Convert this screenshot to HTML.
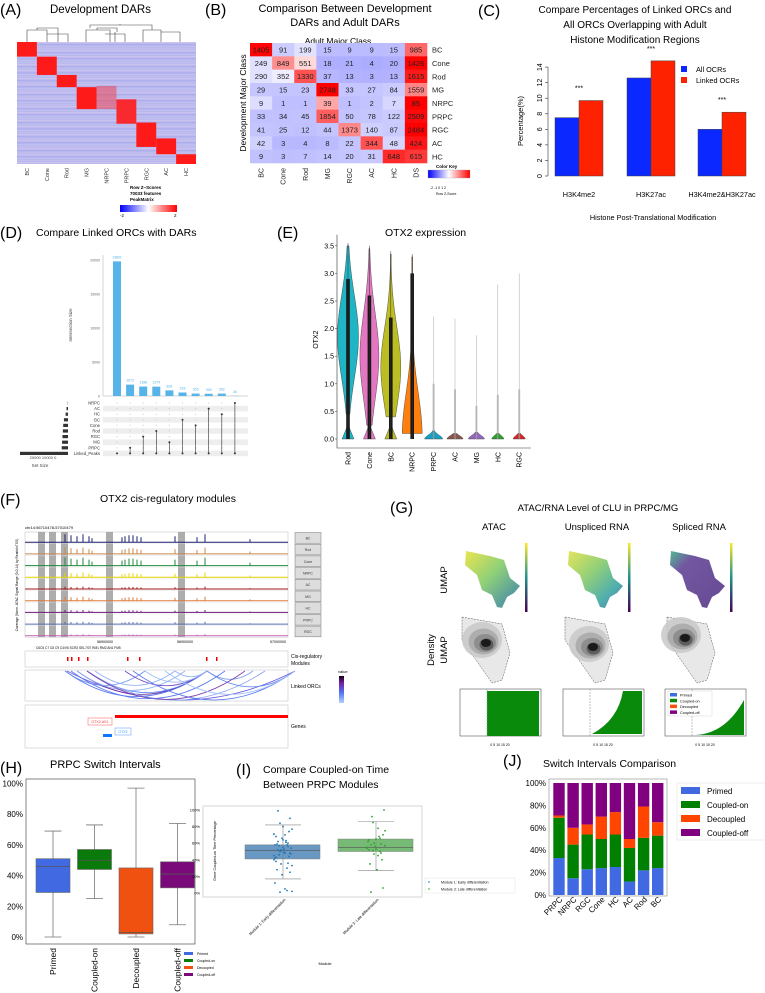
<!DOCTYPE html>
<html><head><meta charset="utf-8"><style>
html,body{margin:0;padding:0;background:#fff}
svg{display:block;font-family:"Liberation Sans",sans-serif}
</style></head><body>
<svg id="fig" width="765" height="993" viewBox="0 0 765 993" xmlns="http://www.w3.org/2000/svg">
<defs>
<linearGradient id="rwb" x1="0" x2="1"><stop offset="0" stop-color="#0000ff"/><stop offset="0.5" stop-color="#ffffff"/><stop offset="1" stop-color="#ff0000"/></linearGradient>
<linearGradient id="vir" x1="0" y1="0" x2="1" y2="1"><stop offset="0" stop-color="#e8e030"/><stop offset="0.45" stop-color="#7cc860"/><stop offset="0.8" stop-color="#3a8a8c"/><stop offset="1" stop-color="#c0d840"/></linearGradient>
<linearGradient id="vir2" x1="0" y1="0" x2="1" y2="1"><stop offset="0" stop-color="#e0e040"/><stop offset="0.4" stop-color="#80c860"/><stop offset="0.75" stop-color="#30a0a0"/><stop offset="1" stop-color="#3a5a90"/></linearGradient>
<linearGradient id="vir3" x1="0" y1="0" x2="1" y2="1"><stop offset="0" stop-color="#30b080"/><stop offset="0.25" stop-color="#5a3a90"/><stop offset="1" stop-color="#4a2a80"/></linearGradient>
<linearGradient id="cbar" x1="0" y1="1" x2="0" y2="0"><stop offset="0" stop-color="#440154"/><stop offset="0.5" stop-color="#21918c"/><stop offset="1" stop-color="#fde725"/></linearGradient>
<linearGradient id="valkey" x1="0" y1="1" x2="0" y2="0"><stop offset="0" stop-color="#b0d0ff"/><stop offset="0.4" stop-color="#5070f0"/><stop offset="0.75" stop-color="#7020a0"/><stop offset="1" stop-color="#100010"/></linearGradient>
</defs>
<text x="0" y="15" font-size="16">(A)</text>
<text x="50" y="13" font-size="11.5">Development DARs</text>
<text x="205" y="15" font-size="16">(B)</text>
<text x="345" y="12" font-size="11" text-anchor="middle">Comparison Between Development</text>
<text x="345" y="26" font-size="11" text-anchor="middle">DARs and Adult DARs</text>
<text x="338" y="44" font-size="8.5" text-anchor="middle">Adult Major Class</text>
<text transform="translate(246,103) rotate(-90)" font-size="8.5" text-anchor="middle">Development Major Class</text>
<text x="478" y="16" font-size="16">(C)</text>
<text x="635" y="13" font-size="10" text-anchor="middle">Compare Percentages of Linked ORCs and</text>
<text x="635" y="28" font-size="10" text-anchor="middle">All ORCs Overlapping with Adult</text>
<text x="635" y="43" font-size="10" text-anchor="middle">Histone  Modification Regions</text>
<text x="0" y="238" font-size="16">(D)</text>
<text x="36" y="236" font-size="10.5">Compare Linked ORCs with DARs</text>
<text x="277" y="238" font-size="16">(E)</text>
<text x="385" y="236" font-size="10.5">OTX2 expression</text>
<text x="0" y="505" font-size="16">(F)</text>
<text x="100" y="502" font-size="10.5">OTX2 cis-regulatory modules</text>
<text x="390" y="513" font-size="16">(G)</text>
<text x="598" y="511" font-size="9.5" text-anchor="middle">ATAC/RNA  Level of CLU in PRPC/MG</text>
<text x="494" y="530" font-size="9.5" text-anchor="middle">ATAC</text>
<text x="597" y="530" font-size="9.5" text-anchor="middle">Unspliced RNA</text>
<text x="699" y="530" font-size="9.5" text-anchor="middle">Spliced RNA</text>
<text transform="translate(447,580) rotate(-90)" font-size="9.5" text-anchor="middle">UMAP</text>
<text transform="translate(434,650) rotate(-90)" font-size="9.5" text-anchor="middle">Density</text>
<text transform="translate(447,650) rotate(-90)" font-size="9.5" text-anchor="middle">UMAP</text>
<text x="0" y="773" font-size="16">(H)</text>
<text x="50" y="768" font-size="11">PRPC Switch Intervals</text>
<text x="236" y="775" font-size="16">(I)</text>
<text x="263" y="773" font-size="10.5">Compare Coupled-on Time</text>
<text x="263" y="788" font-size="10.5">Between PRPC Modules</text>
<text x="503" y="766" font-size="16">(J)</text>
<text x="543" y="767" font-size="10.5">Switch Intervals Comparison</text>
</svg>
<script>
const NS='http://www.w3.org/2000/svg';
const svg=document.getElementById('fig');
function mk(tag,attrs,parent){const e=document.createElementNS(NS,tag);for(const k in attrs)e.setAttribute(k,attrs[k]);(parent||svg).appendChild(e);return e;}
function tx(x,y,s,size,attrs,parent){const e=mk('text',Object.assign({x:x,y:y,'font-size':size},attrs||{}),parent);e.textContent=s;return e;}

/* ---------- Panel A ---------- */
const aCols=['BC','Cone','Rod','MG','NRPC','PRPC','RGC','AC','HC'];
const aBlockStart=[0,0.12,0.27,0.37,0.36,0.47,0.66,0.79,0.92];
const aBlockEnd=[0.12,0.27,0.37,0.55,0.55,0.67,0.86,0.92,1.0];
const aBlockStrength=[1,1,1,1,0.4,0.9,1,1,1];
{
 const x0=17,y0=42,w=179,h=122,cw=w/aCols.length;
 const g=mk('g',{});
 
 
 const bg=mk('rect',{x:x0,y:y0,width:w,height:h,fill:'#b8b8ee'},g);
 
 
 for(let r=0;r<61;r++){
  const shade=(r*37)%7;
  const c=shade<2?'#d8c8ee':(shade<4?'#a8a8ea':'#c4bff0');
  const s=mk('rect',{x:x0,y:y0+r*2,width:w,height:1.2,fill:c,opacity:0.6},g);
  
  
 }
 aCols.forEach((c,i)=>{
  const b=mk('rect',{x:x0+i*cw,y:y0+aBlockStart[i]*h,width:cw,height:(aBlockEnd[i]-aBlockStart[i])*h,fill:'#ff1a1a',opacity:aBlockStrength[i]},g);
  
  
  const t=tx(0,0,c,5.5,{transform:`translate(${x0+i*cw+cw/2+2},168) rotate(-90)`,'text-anchor':'end',fill:'#333'});
  
  
 });
 const dend=mk('path',{d:'M27,42V30H47V42M47,32V32M37,30V28H58V34M47,34H68V42M58,34V42M86,42V30H110V42M105,34H125V42M97,30V28H117V32M115,32V42M143,42V30H161V42M161,32H180V42M152,30V25H90V28M120,25V24',fill:'none',stroke:'#444','stroke-width':0.6});
 
 
 const ck=mk('rect',{x:120,y:205,width:57,height:7,fill:'url(#rwb)'});
 
 
 [['Row Z−Scores',189],['70033 features',195],['PeakMatrix',201]].forEach(p=>{const t=tx(130,p[1],p[0],4.5,{'font-weight':'bold'});});
 const k1=tx(120,217,'-2',4.5);
 const k2=tx(174,217,'2',4.5);
}

/* ---------- Panel B ---------- */
const bRows=['BC','Cone','Rod','MG','NRPC','PRPC','RGC','AC','HC'];
const bCols=['BC','Cone','Rod','MG','RGC','AC','HC','DS'];
const bBC=[1405,91,199,15,9,9,15,985];
const bCone=[249,849,551,18,21,4,20,1426];
const bRod=[290,352,1330,37,13,3,13,1615];
const bMG=[29,15,23,2748,33,27,84,1559];
const bNRPC=[9,1,1,39,1,2,7,85];
const bPRPC=[33,34,45,1854,50,78,122,2509];
const bRGC=[41,25,12,44,1373,140,87,2484];
const bAC=[42,3,4,8,22,344,48,424];
const bHC=[9,3,7,14,20,31,648,615];
const bMatrix=[bBC,bCone,bRod,bMG,bNRPC,bPRPC,bRGC,bAC,bHC];
function zcolor(z){z=Math.max(-2,Math.min(2,z));const t=Math.abs(z)/2;
 if(z<0)return `rgb(${Math.round(255-t*223)},${Math.round(255-t*223)},255)`;
 return `rgb(255,${Math.round(255-t*255)},${Math.round(255-t*255)})`;}
{
 const x0=250,y0=43,cw=177/bCols.length,rh=120/bRows.length;
 const g=mk('g',{});
 
 
 bMatrix.forEach((row,r)=>{
  const m=row.reduce((a,b)=>a+b,0)/row.length;
  const sd=Math.sqrt(row.reduce((a,b)=>a+(b-m)*(b-m),0)/(row.length-1));
  row.forEach((v,c)=>{
   const cell=mk('rect',{x:x0+c*cw,y:y0+r*rh,width:cw+0.3,height:rh+0.3,fill:zcolor((v-m)/sd)},g);
   
   
   const t=tx(x0+c*cw+cw/2,y0+r*rh+rh/2+2.8,String(v),7.5,{'text-anchor':'middle',fill:'#222'},g);
   
   
  });
  const rl=tx(432,y0+r*rh+rh/2+3,bRows[r],7.5,{fill:'#222'},g);
  
  
 });
 bCols.forEach((c,i)=>{
  const t=tx(0,0,c,7,{transform:`translate(${x0+i*cw+cw/2+2.5},168) rotate(-90)`,'text-anchor':'end',fill:'#222'},g);
  
  
 });
 const kt=tx(436,168,'Color Key',4.5,{'font-weight':'bold'});
 const ck=mk('rect',{x:428,y:170,width:42,height:8,fill:'url(#rwb)',stroke:'#999','stroke-width':0.3});
 
 
 const kl=tx(430,189,'-2  -1   0   1   2',3.5);
 const kz=tx(436,195,'Row Z-Score',3.5);
}

/* ---------- Panel C ---------- */
const cGroups=['H3K4me2','H3K27ac','H3K4me2&H3K27ac'];
const cAll=[7.5,12.6,6.0];
const cLinked=[9.7,14.8,8.2];
const cTicks=[0,2,4,6,8,10,12,14];
{
 const y=v=>176-v*7.78;
 const gx=[555,627,698],bw=24;
 cTicks.forEach(t=>{
  const tk=mk('line',{x1:545,x2:548,y1:y(t),y2:y(t),stroke:'#333','stroke-width':0.6});
  
  const l=tx(0,0,String(t),7,{transform:`translate(542,${y(t)}) rotate(-90)`,'text-anchor':'middle'});
 });
 const ax=mk('line',{x1:548,x2:548,y1:y(0),y2:y(14),stroke:'#333','stroke-width':0.6});
 
 const yt=tx(0,0,'Percentage(%)',7.5,{transform:'translate(523,121) rotate(-90)','text-anchor':'middle'});
 
 cGroups.forEach((gname,i)=>{
  const b1=mk('rect',{x:gx[i],y:y(cAll[i]),width:bw,height:y(0)-y(cAll[i]),fill:'#0a28ff',stroke:'#444','stroke-width':0.5});
  
  const b2=mk('rect',{x:gx[i]+bw,y:y(cLinked[i]),width:bw,height:y(0)-y(cLinked[i]),fill:'#ff2200',stroke:'#444','stroke-width':0.5});
  
  const st=tx(gx[i]+bw,y(cLinked[i])-10,'***',7,{'text-anchor':'middle'});
  
  const gl=tx(gx[i]+bw,197,gname,7.3,{'text-anchor':'middle'});
  
 });
 const xt=tx(653,220,'Histone Post-Translational Modification',7.3,{'text-anchor':'middle'});
 
 const l1=mk('rect',{x:681,y:66,width:6,height:6,fill:'#0a28ff'});
 const l2=mk('rect',{x:681,y:77,width:6,height:6,fill:'#ff2200'});
 const lt1=tx(696,72,'All OCRs',7.3);
 const lt2=tx(696,83,'Linked OCRs',7.3);
}

/* ---------- Panel D ---------- */
const dSets=['NRPC','AC','HC','BC','Cone','Rod','RGC','MG','PRPC','Linked_Peaks'];
const dSetSizes=[150,800,1300,2200,2600,2800,3000,3200,3400,26000];
const dSizes=[19801,1672,1388,1374,828,518,353,326,352,26];
const dMembers=['PRPC','RGC','Rod','MG','BC','Cone','AC','HC','NRPC'];
const dTicks=[0,5000,10000,15000,20000];
{
 const base=396,sc=102/15000,xs=i=>117+i*13.1;
 const ax=mk('line',{x1:103,x2:103,y1:base,y2:255,stroke:'#aaa','stroke-width':0.5});
 
 const xa=mk('line',{x1:103,x2:248,y1:base,y2:base,stroke:'#aaa','stroke-width':0.5});
 
 dTicks.forEach(t=>{const l=tx(100,base-t*sc+1.5,String(t),3.5,{'text-anchor':'end',fill:'#666'});});
 const yt=tx(0,0,'Intersection Size',4.5,{transform:'translate(72,325) rotate(-90)','text-anchor':'middle',fill:'#444'});
 
 dSets.forEach((s,r)=>{
  const yy=403+r*5.6;
  if(r%2===1){const sh=mk('rect',{x:103,y:yy-2.8,width:145,height:5.6,fill:'#eee'});}
  const l=tx(100,yy+1.5,s,4.2,{'text-anchor':'end',fill:'#333'});
  const w=dSetSizes[r]*(48/26000);
  const sb=mk('rect',{x:68-w,y:yy-1.6,width:w,height:3.2,fill:'#333'});
 });
 const sl=tx(43,459,'20000 10000  0',4,{'text-anchor':'middle',fill:'#444'});
 const sst=tx(40,467,'Set Size',4.5,{'text-anchor':'middle',fill:'#444'});
 dSizes.forEach((v,i)=>{
  const b=mk('rect',{x:xs(i)-4,y:base-v*sc,width:8,height:v*sc,fill:'#56b4e9'});
  
  const l=tx(xs(i),base-v*sc-3,String(v),3.5,{'text-anchor':'middle',fill:'#56b4e9'});
  
  dSets.forEach((s,r)=>{const d=mk('circle',{cx:xs(i),cy:403+r*5.6,r:0.6,fill:'#ccc'});});
  const lp=403+9*5.6;
  const d1=mk('circle',{cx:xs(i),cy:lp,r:1,fill:'#333'});
  if(i>0){const r=dSets.indexOf(dMembers[i-1]);const yy=403+r*5.6;
   const ln=mk('line',{x1:xs(i),x2:xs(i),y1:yy,y2:lp,stroke:'#333','stroke-width':0.6});
   const d2=mk('circle',{cx:xs(i),cy:yy,r:1,fill:'#333'});}
 });
}

/* ---------- Panel E ---------- */
const eCats=['Rod','Cone','BC','NRPC','PRPC','AC','MG','HC','RGC'];
const eColors=['#1fb5c5','#e377c2','#bcbd22','#ff7f0e','#17a0c0','#8c564b','#9467bd','#2ca02c','#d62728'];
const ePeak=[1.85,1.5,1.3,0.05,0,0,0,0,0];
const eHalfWidth=[10.5,9.5,10,10,9,8,8,6,6];
const eBodyLow=[0.45,0.25,0.4,0.1,0,0,0,0,0];
const eBodyHigh=[3.5,3.45,3.35,3.3,0.15,0.1,0.12,0.1,0.1];
const eMax=[3.55,3.5,3.4,3.35,2.22,2.18,1.88,2.8,3.0];
const eCoreHigh=[2.9,2.6,2.2,3.0,1.0,0.9,0.6,0.8,0.9];
const eTicks=[0,0.5,1,1.5,2,2.5,3,3.5];
{
 const y=v=>439-v*55.2, xc=i=>348+i*21.4;
 eTicks.forEach(t=>{
  const l=tx(334,y(t)+2.5,t.toFixed(1),7,{'text-anchor':'end'});
  const tk=mk('line',{x1:335,x2:337,y1:y(t),y2:y(t),stroke:'#333','stroke-width':0.5});
 });
 const ax=mk('path',{d:`M337,${y(3.7)}V448H531`,fill:'none',stroke:'#333','stroke-width':0.6});
 const yt=tx(0,0,'OTX2',7,{transform:`translate(318,${y(1.8)}) rotate(-90)`,'text-anchor':'middle'});
 eCats.forEach((c,i)=>{
  const cx=xc(i);let right=[],left=[];
  for(let k=0;k<=40;k++){
   const v=eBodyLow[i]+(eBodyHigh[i]-eBodyLow[i])*k/40;
   const s=(eBodyHigh[i]-eBodyLow[i])/3+0.05;
   let w=eHalfWidth[i]*Math.exp(-Math.pow((v-ePeak[i])/s,2));
   w=Math.max(w,0.4);right.push([cx+w,y(v)]);left.push([cx-w,y(v)]);
  }
  const zb=i<3?[[cx-6,y(0)],[cx+6,y(0)],[cx+1,y(0.22)],[cx-1,y(0.22)]]:[];
  const d='M'+right.map(p=>p.join(',')).join('L')+'L'+left.reverse().map(p=>p.join(',')).join('L')+'Z';
  const v=mk('path',{d:d,fill:eColors[i],stroke:'#333','stroke-width':0.4});
  
  if(zb.length){const z=mk('path',{d:'M'+zb.map(p=>p.join(',')).join('L')+'Z',fill:eColors[i],stroke:'#333','stroke-width':0.4});}
  const big=i<4;
  const core=mk('rect',{x:cx-(big?1.8:1),y:y(eCoreHigh[i]),width:big?3.6:2,height:y(0)-y(eCoreHigh[i]),fill:big?'#111':'#888',opacity:big?0.95:0.5});
  
  const ln=mk('line',{x1:cx,x2:cx,y1:y(eMax[i]),y2:y(0),stroke:big?'#333':'#aaa','stroke-width':0.5});
  
  const l=tx(0,0,c,7,{transform:`translate(${cx+2.5},452) rotate(-90)`,'text-anchor':'end'});
  
 });
}

/* ---------- Panel F ---------- */
const fTracks=['BC','Rod','Cone','NRPC','AC','MG','HC','PRPC','RGC'];
const fColors=['#1a1f6e','#c98a4b','#1f8a3a','#e6d400','#a01818','#e07b39','#6a1a7a','#5a70b0','#c060b0'];
const fPeakPos=[40,46,52,58,64,67,97,100,104,108,112,116,150,172,180,225,272];
const fPeakScale=[1,0.8,1,0.6,0.3,0.5,0.3,0.3,0.2];
const fPeakHeight=[8,7,6,8,6,4,5,6,7,7,6,5,6,5,8,3,3];
const fModules=[42,46,53,62,102,114,181,191];
{
 const x0=25,x1=288,y0=532,th=11.7;
 const frame=mk('rect',{x:x0,y:y0,width:x1-x0,height:th*9,fill:'none',stroke:'#bbb','stroke-width':0.5});
 
 [[38,45],[49,56],[61,68],[106,113],[178,185]].forEach(h=>{const r=mk('rect',{x:h[0],y:y0,width:h[1]-h[0],height:th*9,fill:'#999',opacity:0.8});});
 const cl=tx(25,529,'chr14:56710478-57010479',4);
 const yl=tx(0,0,'Coverage (Norm. ATAC Signal Range (0-0.14) by ReadsInTSS)',3.3,{transform:'translate(18,585) rotate(-90)','text-anchor':'middle'});
 
 fTracks.forEach((t,i)=>{
  const by=y0+th*(i+1)-1.5;
  let d=`M${x0},${by}H${x1}`;
  fPeakPos.forEach((p,k)=>{const hh=fPeakHeight[k]*fPeakScale[i];d+=`M${x0+p},${by}v${-hh}`;});
  const tr=mk('path',{d:d,stroke:fColors[i],'stroke-width':1,fill:'none'});
  
  const sep=mk('line',{x1:x0,x2:x1,y1:y0+th*(i+1),y2:y0+th*(i+1),stroke:'#ddd','stroke-width':0.4});
  
  const lb=mk('rect',{x:295,y:y0+th*i+0.5,width:26,height:th-1,fill:'#ddd',stroke:'#777','stroke-width':0.5});
  
  const lt=tx(308,y0+th*i+th/2+1.5,t,3.5,{'text-anchor':'middle',fill:'#333'});
  
 });
 [['56900000',105],['56900000',185],['57000000',278]].forEach(p=>{const l=tx(p[1],643,p[0],3.6,{'text-anchor':'middle'});});
 const ml=tx(36,649,'C6C5  C7  C8  C9         C4/V6   SCR2  SEL7/07                      RM1 RM2  AN1              FM5',3.2,{'xml:space':'preserve'});
 
 const mb=mk('rect',{x:x0,y:651,width:x1-x0,height:16,fill:'none',stroke:'#bbb','stroke-width':0.5});
 fModules.forEach(p=>{const m=mk('rect',{x:x0+p,y:657,width:1.5,height:4,fill:'#e00'});});
 const mt1=tx(291,658,'Cis-regulatory',5);
 const mt2=tx(291,665,'Modules',5);
 const lkb=mk('rect',{x:x0,y:670,width:x1-x0,height:31,fill:'none',stroke:'#bbb','stroke-width':0.5});
 const arcs=[[40,182,'#5a78f0'],[42,270,'#6a5ae0'],[52,182,'#7030a0'],[62,182,'#5080f0'],[62,240,'#80a0f0'],[40,120,'#6a90f0'],[52,160,'#90b0f8'],[100,182,'#6a40c0'],[108,270,'#5a78f0'],[120,182,'#a0c0f8'],[150,182,'#90b0f8'],[182,228,'#80a0f0'],[182,270,'#6a90f0'],[62,220,'#8040b0'],[46,200,'#5a78f0'],[70,150,'#90b0f8'],[140,270,'#a0c0f8']];
 arcs.forEach(a=>{const x1a=x0+a[0],x2a=x0+a[1],dep=Math.min(29,(a[1]-a[0])*0.18);
  const p=mk('path',{d:`M${x1a},671Q${(x1a+x2a)/2},${671+dep*2} ${x2a},671`,fill:'none',stroke:a[2],'stroke-width':0.8});
  });
 const lt=tx(291,688,'Linked ORCs',5);
 const vk=mk('rect',{x:339,y:676,width:5,height:27,fill:'url(#valkey)'});
 const vt=tx(338,673,'value',4);
 const gb=mk('rect',{x:x0,y:705,width:x1-x0,height:43,fill:'none',stroke:'#bbb','stroke-width':0.5});
 const gline=mk('rect',{x:115,y:715,width:173,height:3,fill:'#f00'});
 const gn1=mk('rect',{x:88,y:718,width:24,height:7,fill:'#fff',stroke:'#f55','stroke-width':0.5});
 const g1=tx(100,723,'OTX2-AS1',3.5,{'text-anchor':'middle',fill:'#e33'});
 const gn2=mk('rect',{x:115,y:728,width:16,height:7,fill:'#fff',stroke:'#59f','stroke-width':0.5});
 const g2=tx(123,733,'OTX2',3.5,{'text-anchor':'middle',fill:'#39f'});
 const gb2=mk('rect',{x:103,y:734,width:9,height:3,fill:'#17f'});
 const gt=tx(291,728,'Genes',5);
}

/* ---------- Panel G ---------- */
{
 const cols=[460,563,665],fills=['url(#vir)','url(#vir2)','url(#vir3)'];
 cols.forEach((cx,i)=>{
  const ox=cx+2;
  const u=mk('path',{d:`M${ox+4},${551}L${ox+28},${556}L${ox+42},${560}L${ox+48},${578}L${ox+58},${586}L${ox+52},${593}L${ox+45},${597}L${ox+40},${608}L${ox+35},${607}L${ox+30},${595}L${ox+20},${590}L${ox+15},${575}L${ox+3},${565}Z`,fill:fills[i],opacity:0.85});
  
  const cb=mk('rect',{x:cx+65,y:543,width:2.5,height:69,fill:'url(#cbar)'});
  
  const sh=i===2?[[14,5],[30,3]]:(i===1?[[24,14],[14,8]]:[[20,10],[14,6]]);
  const outline=mk('path',{d:`M${ox},${617}L${ox+40},${624}L${ox+48},${653}L${ox+40},${680}L${ox+30},${683}L${ox},${640}Z`,fill:'#e8e8e8',stroke:'#555','stroke-width':0.5,'stroke-dasharray':'2,1'});
  
  [['#c8c8c8',20,18],['#a8a8a8',15,13],['#888',11,9],['#555',7,6]].forEach((s,k)=>{
   const e=mk('ellipse',{cx:ox+sh[0][0]+k*1.5,cy:630+sh[0][1]+k*1.5,rx:s[1],ry:s[2],fill:s[0],opacity:0.85});
   
  });
  const core=mk('ellipse',{cx:ox+sh[0][0]+4,cy:630+sh[0][1]+3,rx:5,ry:4,fill:'#1a1a1a'});
  
  const box=mk('rect',{x:cx,y:689,width:81,height:47,fill:'#fff',stroke:'#555','stroke-width':0.6});
  
  const gp=i===0?`M${cx+27},691H${cx+79}V736H${cx+27}Z`:(i===1?`M${cx+29},734Q${cx+55},720 ${cx+60},691H${cx+79}V734Z`:`M${cx+30},735Q${cx+60},734 ${cx+79},700V735Z`);
  const green=mk('path',{d:gp,fill:'#0a8a0a'});
  const dash=mk('line',{x1:cx+27,x2:cx+27,y1:689,y2:736,stroke:'#999','stroke-width':0.6,'stroke-dasharray':'2,1'});
  
  const tl=tx(cx+40,746,'0        5       10      15      20',3.5,{'text-anchor':'middle','xml:space':'preserve'});
  
 });
 const lg=mk('rect',{x:668,y:691,width:44,height:25,fill:'#fff',stroke:'#ccc','stroke-width':0.4});
 
 [['Primed','#3b6fe0'],['Coupled-on','#0a8a0a'],['Decoupled','#ff5010'],['Coupled-off','#800080']].forEach((p,k)=>{
  const s=mk('rect',{x:670,y:693+k*5.8,width:7,height:3.5,fill:p[1]});
  const t=tx(680,696.5+k*5.8,p[0],3.8);
 });
}

/* ---------- Panel H ---------- */
const hCats=['Primed','Coupled-on','Decoupled','Coupled-off'];
const hColors=['#4169e1','#0a7a0a','#f05010','#7a0a7a'];
const hMin=[0,25,0,8];
const hQ1=[29,44,2,32];
const hMed=[46,50,3,41];
const hQ3=[51,57,45,49];
const hMax=[69,73,97,74];
const hTicks=[0,20,40,60,80,100];
{
 const y=v=>937-v*1.535, xc=i=>53+i*41.5;
 const fr=mk('rect',{x:26,y:779,width:169,height:165,fill:'none',stroke:'#333','stroke-width':0.6});
 
 hTicks.forEach(t=>{const l=tx(23,y(t)+3,t+'%',8,{'text-anchor':'end'});});
 hCats.forEach((c,i)=>{
  const cx=xc(i);
  const w=mk('line',{x1:cx,x2:cx,y1:y(hMin[i]),y2:y(hMax[i]),stroke:'#777','stroke-width':0.8});
  [hMin[i],hMax[i]].forEach(v=>{const cap=mk('line',{x1:cx-8.5,x2:cx+8.5,y1:y(v),y2:y(v),stroke:'#777','stroke-width':0.8});});
  const b=mk('rect',{x:cx-17,y:y(hQ3[i]),width:34,height:y(hQ1[i])-y(hQ3[i]),fill:hColors[i],stroke:'#666','stroke-width':0.6});
  
  const m=mk('line',{x1:cx-17,x2:cx+17,y1:y(hMed[i]),y2:y(hMed[i]),stroke:'#555','stroke-width':0.8});
  const l=tx(0,0,c,8.5,{transform:`translate(${cx+3},948) rotate(-90)`,'text-anchor':'end'});
  const ls=mk('rect',{x:184,y:952+i*7,width:9,height:3,fill:hColors[i]});
  const lt=tx(197,955+i*7,c,3.5);
 });
}

/* ---------- Panel I ---------- */
const iCats=['Module 1: Early differentiation','Module 3: Late differentiation'];
const iQ1=[41,50];
const iMed=[51,55];
const iQ3=[58,65];
const iMin=[17,27];
const iMax=[82,86];
const iPts1=[45,52,60,38,55,48,62,70,33,50,58,42,66,74,28,53,47,57,63,40,51,36,68,80,90,99,5,2,1,3,12,22,44,59,49,54,46,61,71,35,56,43,64,25,52,48,77,84,30,58];
const iPts2=[55,60,48,52,65,70,58,45,75,85,50,62,56,40,35,28,100,92,68,54,47,59,64,53,6,1,78,57,51,66];
{
 const y=v=>893-v*0.83, xc=[283,376];
 const fr=mk('rect',{x:203,y:806,width:219,height:91,fill:'none',stroke:'#bbb','stroke-width':0.6});
 
 [0,20,40,60,80,100].forEach(t=>{const l=tx(200,y(t)+1.5,t+'%',4,{'text-anchor':'end'});});
 const yt=tx(0,0,'Gene Coupled-on Time Percentage',3.8,{transform:'translate(216,851) rotate(-90)','text-anchor':'middle'});
 
 const fc=['#4f87b8','#5fae5f'],pc=['#1f77b4','#2ca02c'];
 iCats.forEach((c,i)=>{
  const cx=xc[i];
  const w=mk('line',{x1:cx,x2:cx,y1:y(iMin[i]),y2:y(iMax[i]),stroke:'#888','stroke-width':0.6});
  [iMin[i],iMax[i]].forEach(v=>{const cap=mk('line',{x1:cx-18,x2:cx+18,y1:y(v),y2:y(v),stroke:'#888','stroke-width':0.6});});
  const b=mk('rect',{x:cx-38,y:y(iQ3[i]),width:75,height:y(iQ1[i])-y(iQ3[i]),fill:fc[i],opacity:0.85,stroke:'#666','stroke-width':0.5});
  
  const m=mk('line',{x1:cx-38,x2:cx+37,y1:y(iMed[i]),y2:y(iMed[i]),stroke:'#555','stroke-width':0.6});
  const pts=i===0?iPts1:iPts2;
  pts.forEach((v,k)=>{const p=mk('circle',{cx:cx-9+((k*7)%19),cy:y(v),r:0.9,fill:pc[i]});});
  const l=tx(0,0,c,3.8,{transform:`translate(${cx+3},900) rotate(-45)`,'text-anchor':'end'});
  const ld=mk('circle',{cx:429,cy:882+i*7,r:0.8,fill:pc[i]});
  const lt=tx(441,883.5+i*7,c,3.6);
 });
 const lb=mk('rect',{x:425,y:878,width:90,height:15,fill:'none',stroke:'#ddd','stroke-width':0.4});
 const xt=tx(325,965,'Module',4,{'text-anchor':'middle'});
}

/* ---------- Panel J ---------- */
const jCats=['PRPC','NRPC','RGC','Cone','HC','AC','Rod','BC'];
const jPrimed=[33,15,23,24,25,12,22,24];
const jCoupledOn=[36,30,31,26,29,30,29,29];
const jDecoupled=[2,15,9,20,20,8,28,12];
const jCoupledOff=[29,40,37,30,26,50,21,35];
const jSeries=[jPrimed,jCoupledOn,jDecoupled,jCoupledOff];
const jNames=['Primed','Coupled-on','Decoupled','Coupled-off'];
const jColors=['#4169e1','#008000','#ff4500','#800080'];
{
 const y=v=>895-v*1.12, xc=i=>559+i*14.1;
 const fr=mk('rect',{x:549,y:779,width:118,height:117,fill:'none',stroke:'#888','stroke-width':0.6});
 
 [0,20,40,60,80,100].forEach(t=>{const l=tx(546,y(t)+3,t+'%',8,{'text-anchor':'end'});});
 jCats.forEach((c,i)=>{
  let acc=0;
  jSeries.forEach((s,k)=>{
   const b=mk('rect',{x:xc(i)-5.7,y:y(acc+s[i]),width:11.4,height:s[i]*1.12,fill:jColors[k]});
   
   acc+=s[i];
  });
  const l=tx(0,0,c,8,{transform:`translate(${xc(i)+4},900) rotate(-45)`,'text-anchor':'end'});
  
 });
 const lb=mk('rect',{x:677,y:783,width:90,height:57,fill:'#fff',stroke:'#ddd','stroke-width':0.5});
 
 jNames.forEach((n,k)=>{
  const s=mk('rect',{x:681,y:787+k*14,width:19,height:7,fill:jColors[k]});
  const t=tx(707,794+k*14,n,8);
 });
}
</script>
</body></html>
